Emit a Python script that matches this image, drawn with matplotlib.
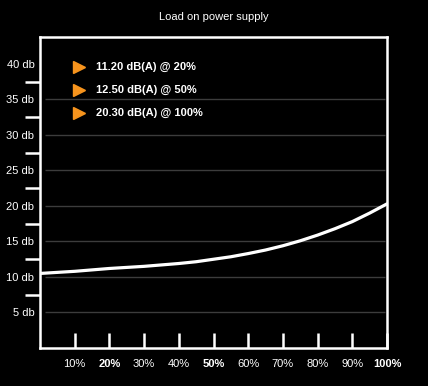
import matplotlib.pyplot as plt
import numpy as np

plt.rcParams['font.family'] = ['Liberation Sans', 'DejaVu Sans']

# noise curve (load % -> dB(A))
load = [0, 5, 10, 15, 20, 25, 30, 35, 40, 45, 50, 55, 60, 65, 70, 75, 80, 85, 90, 95, 100]
noise = [10.5, 10.65, 10.8, 11.0, 11.2, 11.35, 11.5, 11.7, 11.9, 12.15, 12.5, 12.85, 13.3,
         13.8, 14.4, 15.1, 15.9, 16.8, 17.8, 19.0, 20.3]

notes = ['11.20 dB(A) @ 20%', '12.50 dB(A) @ 50%', '20.30 dB(A) @ 100%']
y_labels = [5, 10, 15, 20, 25, 30, 35, 40]
y_marks = [7.5, 12.5, 17.5, 22.5, 27.5, 32.5, 37.5]
x_labels = [10, 20, 30, 40, 50, 60, 70, 80, 90, 100]
bold_x = [20, 50, 100]

orange = '#f7941d'

fig = plt.figure(figsize=(4.28, 3.86), dpi=100, facecolor='black')
ax = fig.add_axes([40 / 428, 38 / 386, 347 / 428, 311 / 386], facecolor='black')

ax.set_xlim(0, 100)
ax.set_ylim(0, 43.8)

# faint grid
ax.hlines(y_labels[:-1], 1.5, 99.3, color='#3c3c3c', lw=1, zorder=1)

ax.plot(load, noise, color='white', lw=2.3, solid_capstyle='round', zorder=3)

for s in ax.spines.values():
    s.set_color('white')
    s.set_linewidth(1.8)

# y: tick marks between labels, labels without marks
ax.set_yticks(y_marks)
ax.set_yticklabels([])
ax.tick_params(axis='y', which='major', direction='out', length=11, width=1.8, color='white')
ax.set_yticks(y_labels, minor=True)
ax.set_yticklabels(['{} db'.format(v) for v in y_labels], minor=True)
ax.tick_params(axis='y', which='minor', length=0, pad=4, labelsize=8, labelcolor='white')

# x: marks inside, labels below
ax.set_xticks(x_labels)
ax.set_xticklabels(['{}%'.format(v) for v in x_labels])
ax.tick_params(axis='x', direction='in', length=11, width=1.8, color='white',
               pad=8, labelsize=8, labelcolor='white')
for lab, v in zip(ax.get_xticklabels(), x_labels):
    if v in bold_x:
        lab.set_fontweight('bold')

# annotations with orange arrows
for i, txt in enumerate(notes):
    yy = 0.905 - i * 0.074
    ax.plot(0.111, yy, marker='>', color=orange, ms=8, transform=ax.transAxes, clip_on=False)
    ax.text(0.162, yy, txt, transform=ax.transAxes, color='white', fontsize=8,
            fontweight='bold', va='center', ha='left')

fig.text(0.5, 1 - 17 / 386, 'Load on power supply', color='white', fontsize=8,
         ha='center', va='center')

fig.savefig('out.png', dpi=100, facecolor='black')
